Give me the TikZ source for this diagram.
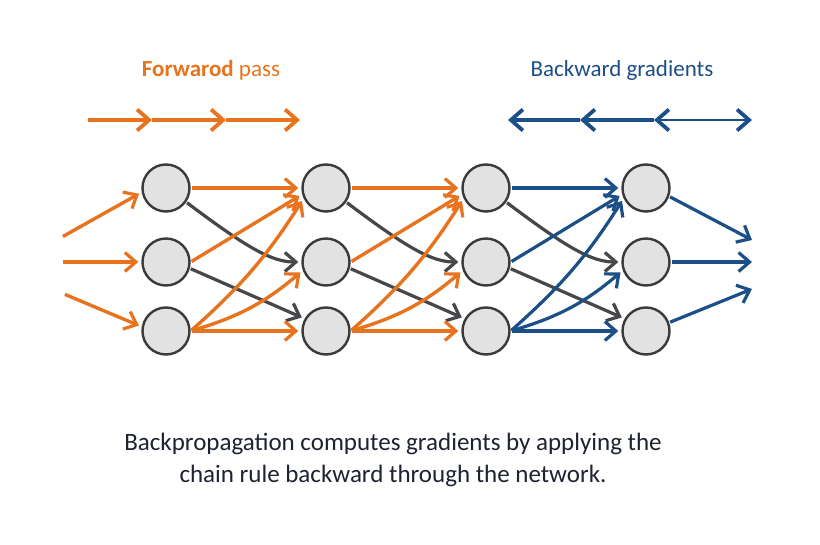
\documentclass[tikz,border=0pt]{standalone}
\usepackage{fontspec}
\setmainfont{Carlito}
\usetikzlibrary{arrows.meta}
\definecolor{fwd}{HTML}{E8731E}
\definecolor{bwd}{HTML}{1B4F87}
\definecolor{drk}{HTML}{45474A}
\definecolor{cfill}{HTML}{E2E2E2}
\definecolor{cline}{HTML}{3A3A3A}
\definecolor{txt}{HTML}{1E2330}
\tikzset{
  neuron/.style={circle, draw=cline, line width=2.4pt, fill=cfill, minimum size=47pt, inner sep=0pt},
  tip/.style={-{Straight Barb[length=11pt,width=19pt,line width=3.2pt]}},
  oarr/.style={tip, draw=fwd, line width=3.4pt, shorten >=3pt, shorten <=1pt},
  barr/.style={tip, draw=bwd, line width=3.2pt, shorten >=3pt, shorten <=1pt},
  darr/.style={tip, draw=drk, line width=3.2pt, shorten >=3pt, shorten <=1pt},
  titlefont/.style={font=\fontsize{23}{26}\selectfont},
  bigtip/.tip={Straight Barb[length=12pt,width=21pt,line width=3.8pt]},
}
\begin{document}
\begin{tikzpicture}[x=1pt,y=-1pt]
\useasboundingbox[fill=white] (0,0) rectangle (820,545);

% titles
\node[titlefont, text=fwd] (tf) at (211,70) {\textbf{Forwarod} pass};
\node[titlefont, text=bwd] (tb) at (622,70) {Backward gradients};

% top direction arrows
\coordinate (f0) at (88,120);
\coordinate (f1) at (152,120);
\coordinate (f2) at (226,120);
\coordinate (f3) at (300,120);
\draw[fwd, line width=3.8pt, -{bigtip}] (f0) -- (f1);
\draw[fwd, line width=3.8pt, -{bigtip}] (f1) -- (f2);
\draw[fwd, line width=3.8pt, -{bigtip}] (f2) -- (f3);
\coordinate (b0) at (508,120);
\coordinate (b1) at (580,120);
\coordinate (b2) at (654,120);
\coordinate (b3) at (752,120);
\draw[bwd, line width=3.8pt, {bigtip}-] (b0) -- (b1);
\draw[bwd, line width=3.8pt, {bigtip}-] (b1) -- (b2);
\draw[bwd, line width=2.8pt, {bigtip}-{bigtip}] (b2) -- (b3);

% neurons
\foreach \c/\x in {1/166,2/326,3/486,4/646}{
  \node[neuron] (t\c) at (\x,188) {};
  \node[neuron] (m\c) at (\x,262) {};
  \node[neuron] (b\c) at (\x,331) {};
}

% inputs
\coordinate (i1) at (62,237);
\coordinate (i2) at (62,262);
\coordinate (i3) at (64,294);
\draw[oarr] (i1) -- (t1.190);
\draw[oarr] (i2) -- (m1.west);
\draw[oarr] (i3) -- (b1.170);

% outputs
\coordinate (o1) at (752,240);
\coordinate (o2) at (752,262);
\coordinate (o3) at (752,289);
\draw[barr, shorten >=0pt] (t4.-20) -- (o1);
\draw[barr, shorten >=0pt] (m4.east) -- (o2);
\draw[barr, shorten >=0pt] (b4.20) -- (o3);

% layer connections
\foreach \a/\b/\s in {1/2/oarr,2/3/oarr,3/4/barr}{
  \draw[darr] (t\a.-35) .. controls +(60,45) and +(-30,0) .. (m\b.west);
  \draw[darr] (m\a.-15) -- (b\b.150);
  \draw[\s] (t\a.east) -- (t\b.west);
  \draw[\s] (m\a.east) -- (t\b.195);
  \draw[\s] (b\a.east) to[bend right=8] (t\b.205);
  \draw[\s] (b\a.east) to[bend right=12] (m\b.200);
  \draw[\s] (b\a.east) -- (b\b.west);
}

% caption
\node[text=txt, font=\fontsize{25}{32}\selectfont, align=center] (cap) at (393,460)
  {Backpropagation computes gradients by applying the\\ chain rule backward through the network.};
\end{tikzpicture}
\end{document}
